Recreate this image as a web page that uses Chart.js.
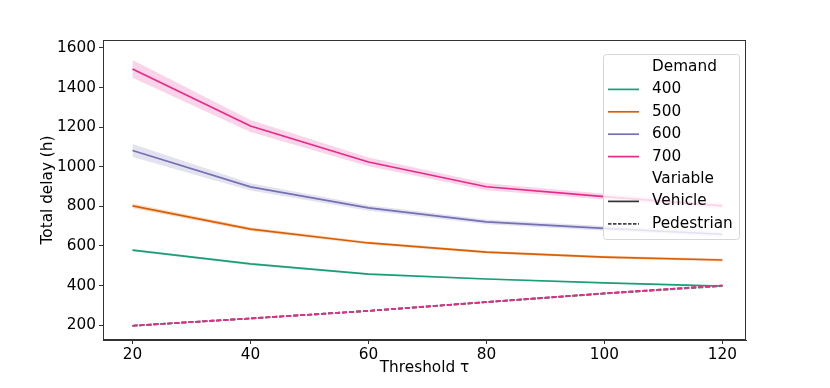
<!DOCTYPE html>
<html>
<head>
<meta charset="utf-8">
<script src="https://cdn.jsdelivr.net/npm/chart.js@4"></script>
<style>
  html, body { margin: 0; padding: 0; background: #fff; }
  #wrap { width: 830px; height: 388px; }
</style>
</head>
<body>
<div id="wrap"><canvas id="delayChart" width="830" height="388"></canvas></div>
<script>
const thresholds = [20, 40, 60, 80, 100, 120];
const demands = ['400', '500', '600', '700'];
const colors = ['#1b9e77', '#d95f02', '#7570b3', '#e7298a'];

// mean total delay, vehicles
const vehicle400 = [579, 509, 458, 433, 413, 397];
const vehicle500 = [802, 685, 615, 569, 544, 529];
const vehicle600 = [1082, 898, 792, 722, 689, 659];
const vehicle700 = [1494, 1206, 1024, 899, 849, 802];
// confidence half-widths
const ci400 = [6, 6, 5, 4, 3, 3];
const ci500 = [12, 10, 8, 7, 7, 8];
const ci600 = [33, 18, 14, 12, 12, 12];
const ci700 = [45, 30, 22, 18, 15, 15];
// mean total delay, pedestrians
const pedestrian400 = [197, 234, 272, 316, 359, 397];
const pedestrian500 = [197, 234, 272, 316, 360, 399];
const pedestrian600 = [197, 234, 272, 317, 360, 400];
const pedestrian700 = [197, 234, 272, 317, 361, 401];

const yTicks = [200, 400, 600, 800, 1000, 1200, 1400, 1600];

const vehicle = [vehicle400, vehicle500, vehicle600, vehicle700];
const ci = [ci400, ci500, ci600, ci700];
const pedestrian = [pedestrian400, pedestrian500, pedestrian600, pedestrian700];

const FONT = "'DejaVu Sans', sans-serif";
const FSIZE = 15.3;

function pts(values) {
    return thresholds.map((t, i) => ({ x: t, y: values[i] }));
}

function hexA(hex, a) {
    const n = parseInt(hex.slice(1), 16);
    return `rgba(${(n >> 16) & 255}, ${(n >> 8) & 255}, ${n & 255}, ${a})`;
}

const datasets = [];
demands.forEach((d, k) => {
    datasets.push({
        label: d + ' vehicle',
        data: pts(vehicle[k]),
        borderColor: colors[k],
        borderWidth: 1.7,
        pointRadius: 0,
        tension: 0,
        fill: false,
        order: 10 - k * 2
    });
    datasets.push({
        label: d + ' pedestrian',
        data: pts(pedestrian[k]),
        borderColor: colors[k],
        borderWidth: 1.7,
        borderDash: [5, 2],
        pointRadius: 0,
        tension: 0,
        fill: false,
        order: 9 - k * 2
    });
});
demands.forEach((d, k) => {
    datasets.push({
        label: d + ' upper',
        data: pts(vehicle[k].map((v, i) => v + ci[k][i])),
        borderWidth: 0,
        pointRadius: 0,
        tension: 0,
        backgroundColor: hexA(colors[k], 0.2),
        fill: '+1',
        order: 20
    });
    datasets.push({
        label: d + ' lower',
        data: pts(vehicle[k].map((v, i) => v - ci[k][i])),
        borderWidth: 0,
        pointRadius: 0,
        tension: 0,
        fill: false,
        order: 20
    });
});

const legendRows = [
    { text: 'Demand' },
    { text: '400', color: colors[0] },
    { text: '500', color: colors[1] },
    { text: '600', color: colors[2] },
    { text: '700', color: colors[3] },
    { text: 'Variable' },
    { text: 'Vehicle', color: '#333333' },
    { text: 'Pedestrian', color: '#444444', dash: [3.5, 1.5] }
];

const frameAndLegend = {
    id: 'frameAndLegend',
    afterDraw(chart) {
        const ctx = chart.ctx;
        const a = chart.chartArea;
        ctx.save();
        ctx.strokeStyle = '#333';
        ctx.lineWidth = 1;
        ctx.strokeRect(a.left + 0.5, a.top + 0.5, a.right - a.left - 1, a.bottom - a.top - 1);

        // legend box
        const bx = 603, by = 54, bw = 136, bh = 185;
        ctx.beginPath();
        ctx.roundRect(bx + 0.5, by + 0.5, bw, bh, 3);
        ctx.fillStyle = 'rgba(255,255,255,0.8)';
        ctx.fill();
        ctx.strokeStyle = '#d6d6d6';
        ctx.stroke();

        ctx.font = FSIZE + 'px ' + FONT;
        ctx.textBaseline = 'middle';
        ctx.fillStyle = '#000';
        legendRows.forEach((r, i) => {
            const y = 67 + i * 22.4;
            if (r.color) {
                ctx.beginPath();
                ctx.strokeStyle = r.color;
                ctx.lineWidth = 1.7;
                ctx.setLineDash(r.dash || []);
                ctx.moveTo(608, y);
                ctx.lineTo(639, y);
                ctx.stroke();
                ctx.setLineDash([]);
            }
            ctx.fillText(r.text, 652, y);
        });
        ctx.restore();
    }
};

const ctx = document.getElementById('delayChart').getContext('2d');
new Chart(ctx, {
    type: 'line',
    data: { datasets: datasets },
    plugins: [frameAndLegend],
    options: {
        responsive: false,
        animation: false,
        layout: { padding: { left: 0, top: 40, right: 84, bottom: 0 } },
        plugins: {
            legend: { display: false },
            tooltip: { enabled: false },
            filler: { drawTime: 'beforeDatasetsDraw' }
        },
        scales: {
            x: {
                type: 'linear',
                min: 15,
                max: 124,
                afterBuildTicks: scale => { scale.ticks = thresholds.map(v => ({ value: v })); },
                afterFit: scale => { scale.height = 48; },
                grid: { drawOnChartArea: false, drawTicks: true, tickLength: 4, color: '#333' },
                border: { display: true, color: '#333' },
                ticks: {
                    color: '#000', font: { family: FONT, size: FSIZE }, padding: 2, maxRotation: 0,
                    callback: v => String(v)
                },
                title: {
                    display: true,
                    text: 'Threshold τ',
                    color: '#000',
                    font: { family: FONT, size: FSIZE },
                    padding: { top: 0, bottom: 11 }
                }
            },
            y: {
                type: 'linear',
                min: 125,
                max: 1640,
                afterBuildTicks: scale => { scale.ticks = yTicks.map(v => ({ value: v })); },
                afterFit: scale => { scale.width = 103; },
                grid: { drawOnChartArea: false, drawTicks: true, tickLength: 4, color: '#333' },
                border: { display: true, color: '#333' },
                ticks: {
                    color: '#000', font: { family: FONT, size: FSIZE }, padding: 3,
                    callback: v => String(v)
                },
                title: {
                    display: true,
                    text: 'Total delay (h)',
                    color: '#000',
                    font: { family: FONT, size: FSIZE },
                    padding: { top: 39, bottom: 0 }
                }
            }
        }
    }
});
</script>
</body>
</html>
